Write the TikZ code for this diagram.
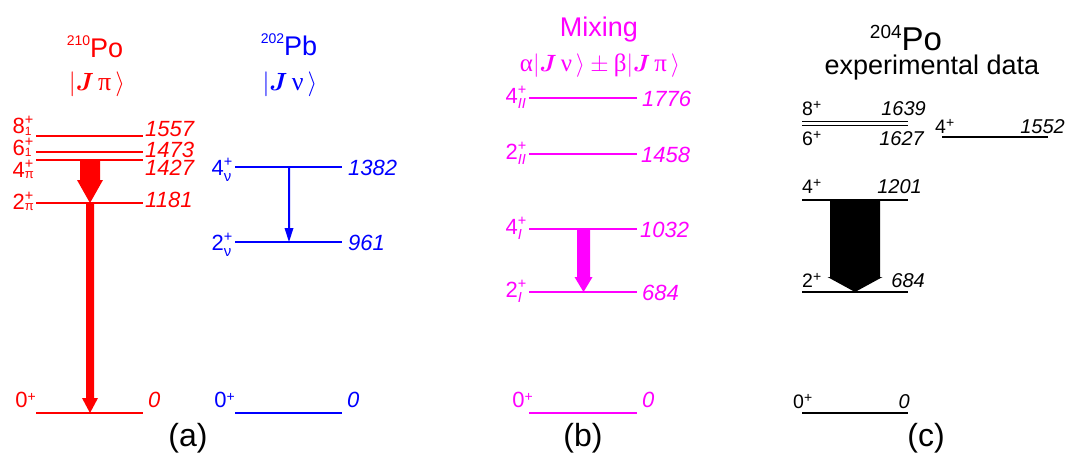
\documentclass[tikz,border=0pt]{standalone}
\usepackage{amsmath}
\usepackage{graphicx}
\usepackage{fontspec}
\setmainfont{Liberation Sans}
\newfontfamily\serif{Liberation Serif}
\usetikzlibrary{calc}
\definecolor{cred}{RGB}{255,0,0}
\definecolor{cblue}{RGB}{0,0,255}
\definecolor{cmag}{RGB}{255,0,255}
% level label: digit, subscript, lowering of subscript, subscript size
\newcommand{\lvs}[4]{#1\rlap{\raisebox{9pt}{\fontsize{14.5}{14.5}\selectfont +}}%
  \rlap{\raisebox{-#3}{\fontsize{#4}{#4}\selectfont #2}}\kern10pt\relax}
\newcommand{\lvp}[1]{#1\raisebox{6pt}{\fontsize{14}{14}\selectfont +}}
\newcommand{\myket}[1]{|\boldsymbol{J}\,\text{\serif #1}\,\rangle}
\newcommand{\levelline}[6]{%
  \coordinate (#1-l) at (#2,#4);
  \coordinate (#1-r) at (#3,#4);
  \draw[#5,line width=#6] (#1-l) -- (#1-r);}
\newcommand{\bigarrow}[6]{%
  \fill[#1] ($(#2)+(-#4,0)$) -- ($(#3)+(-#4,-#6)$) -- ($(#3)+(-#5,-#6)$) -- (#3)
    -- ($(#3)+(#5,-#6)$) -- ($(#3)+(#4,-#6)$) -- ($(#2)+(#4,0)$) -- cycle;}
\tikzset{
  lab/.style={inner sep=0pt, font=\fontsize{22}{22}\selectfont},
  num/.style={inner sep=0pt, font=\fontsize{22}{22}\selectfont\itshape},
  labc/.style={inner sep=0pt, font=\fontsize{19.5}{20}\selectfont},
  numc/.style={inner sep=0pt, font=\fontsize{20}{20}\selectfont\itshape},
  ttl/.style={inner sep=0pt, anchor=base, font=\fontsize{27}{27}\selectfont},
  ketst/.style={inner sep=0pt, anchor=base, font=\fontsize{26}{26}\selectfont},
  panel/.style={inner sep=0pt, anchor=base, font=\fontsize{32}{32}\selectfont},
}
\begin{document}
\begin{tikzpicture}[x=1pt,y=-1pt]
\useasboundingbox (0,0) rectangle (1069,455);
% ---------------- panel (a), 210Po -----------------
\node[ttl,text=cred] (tPo) at (95,57) {\raisebox{12pt}{\fontsize{14}{14}\selectfont 210}Po};
\node[ketst,text=cred] (kPo) at (97,90) {$\myket{π}$};
\levelline{r8}{36}{143}{136}{cred}{2pt}
\levelline{r6}{36}{143}{152}{cred}{2pt}
\levelline{r4}{36}{143}{160}{cred}{2pt}
\levelline{r2}{36}{143}{203}{cred}{2pt}
\levelline{r0}{36}{143}{413}{cred}{2pt}
\node[lab,text=cred,anchor=base east] (lr8) at (35,133) {\lvs{8}{1}{2.5pt}{12}};
\node[lab,text=cred,anchor=base east] (lr6) at (35,155) {\lvs{6}{1}{1pt}{12}};
\node[lab,text=cred,anchor=base east] (lr4) at (35,177) {\lvs{4}{π}{1pt}{13}};
\node[lab,text=cred,anchor=base east] (lr2) at (35,209) {\lvs{2}{π}{1pt}{13}};
\node[lab,text=cred,anchor=base east] (lr0) at (36,407) {\lvp{0}};
\node[num,text=cred,anchor=base west] (nr8) at (145,136) {1557};
\node[num,text=cred,anchor=base west] (nr6) at (145,157) {1473};
\node[num,text=cred,anchor=base west] (nr4) at (145,175) {1427};
\node[num,text=cred,anchor=base west] (nr2) at (145,207) {1181};
\node[num,text=cred,anchor=base west] (nr0) at (148,407) {0};
\coordinate (ra1t) at (90,160);
\coordinate (ra1b) at (90,203);
\coordinate (ra2t) at (90,203);
\coordinate (ra2b) at (90,413);
\bigarrow{cred}{ra1t}{ra1b}{10}{13}{23}
\bigarrow{cred}{ra2t}{ra2b}{4}{8}{15}
% ---------------- panel (a), 202Pb -----------------
\node[ttl,text=cblue] (tPb) at (289,55) {\raisebox{12pt}{\fontsize{14}{14}\selectfont 202}Pb};
\node[ketst,text=cblue] (kPb) at (290,90) {$\myket{ν}$};
\levelline{b4}{235}{342}{167}{cblue}{2pt}
\levelline{b2}{235}{342}{242}{cblue}{2pt}
\levelline{b0}{235}{342}{413}{cblue}{2pt}
\node[lab,text=cblue,anchor=base east] (lb4) at (234,175) {\lvs{4}{ν}{6pt}{15}};
\node[lab,text=cblue,anchor=base east] (lb2) at (234,250) {\lvs{2}{ν}{6pt}{15}};
\node[lab,text=cblue,anchor=base east] (lb0) at (235,407) {\lvp{0}};
\node[num,text=cblue,anchor=base west] (nb4) at (348,175) {1382};
\node[num,text=cblue,anchor=base west] (nb2) at (348,250) {961};
\node[num,text=cblue,anchor=base west] (nb0) at (347,407) {0};
\coordinate (bat) at (289,167);
\coordinate (bab) at (289,242);
\bigarrow{cblue}{bat}{bab}{1}{4.5}{14}
% ---------------- panel (b), mixing -----------------
\node[ttl,text=cmag] (tMix) at (599,36) {Mixing};
\node[ketst,text=cmag,font=\fontsize{22}{22}\selectfont] (kMix) at (600,71)
  {\resizebox{160pt}{!}{$\text{\serif α}\myket{ν}\mkern4mu\mathord{\pm}\mkern4mu\text{\serif β}\myket{π}$}};
\levelline{m4b}{529}{637}{98}{cmag}{2pt}
\levelline{m2b}{529}{637}{154}{cmag}{2pt}
\levelline{m4a}{529}{637}{229}{cmag}{2pt}
\levelline{m2a}{529}{637}{292}{cmag}{2pt}
\levelline{m0}{529}{637}{413}{cmag}{2pt}
\node[lab,text=cmag,anchor=base east] (lm4b) at (528,103) {\lvs{4}{\itshape II}{5pt}{14.5}};
\node[lab,text=cmag,anchor=base east] (lm2b) at (528,159) {\lvs{2}{\itshape II}{5pt}{14.5}};
\node[lab,text=cmag,anchor=base east] (lm4a) at (528,234) {\lvs{4}{\itshape I}{5pt}{14.5}};
\node[lab,text=cmag,anchor=base east] (lm2a) at (528,297) {\lvs{2}{\itshape I}{5pt}{14.5}};
\node[lab,text=cmag,anchor=base east] (lm0) at (533,407) {\lvp{0}};
\node[num,text=cmag,anchor=base west] (nm4b) at (642,106) {1776};
\node[num,text=cmag,anchor=base west] (nm2b) at (641,162) {1458};
\node[num,text=cmag,anchor=base west] (nm4a) at (640,237) {1032};
\node[num,text=cmag,anchor=base west] (nm2a) at (642,300) {684};
\node[num,text=cmag,anchor=base west] (nm0) at (642,407) {0};
\coordinate (mat) at (583.5,229);
\coordinate (mab) at (583.5,292);
\bigarrow{cmag}{mat}{mab}{6.5}{9}{15}
% ---------------- panel (c), 204Po -----------------
\node[ttl,font=\fontsize{33}{33}\selectfont] (tPoc) at (906,50) {\raisebox{11.5pt}{\fontsize{19}{19}\selectfont 204}Po};
\node[ttl,font=\fontsize{27}{27}\selectfont] (tExp) at (932,74) {experimental data};
\levelline{k8}{802}{908}{121.5}{black}{1.8pt}
\levelline{k6}{802}{908}{125.5}{black}{1.8pt}
\levelline{k4}{802}{908}{200}{black}{2pt}
\levelline{k2}{802}{908}{292}{black}{2pt}
\levelline{k0}{802}{908}{413}{black}{2pt}
\levelline{k4b}{942}{1048}{137}{black}{2pt}
\node[labc,anchor=base west] (lk8) at (802,115) {\lvp{8}};
\node[numc,anchor=base east] (nk8) at (926,115) {1639};
\node[labc,anchor=base west] (lk6) at (802,145) {\lvp{6}};
\node[numc,anchor=base east] (nk6) at (924,145) {1627};
\node[labc,anchor=base west] (lk4) at (802,193) {\lvp{4}};
\node[numc,anchor=base east] (nk4) at (922,193) {1201};
\node[labc,anchor=base west] (lk2) at (802,287) {\lvp{2}};
\node[numc,anchor=base east] (nk2) at (925,287) {684};
\node[labc,anchor=base west] (lk0) at (793,408) {\lvp{0}};
\node[numc,anchor=base east] (nk0) at (910,408) {0};
\node[labc,anchor=base west] (lk4b) at (935,133) {\lvp{4}};
\node[numc,anchor=base east] (nk4b) at (1065,133) {1552};
\coordinate (kat) at (855,200);
\coordinate (kab) at (855,292);
\bigarrow{black}{kat}{kab}{25}{27.5}{15}
% ---------------- panel letters -----------------
\node[panel] (pa) at (188,446) {(a)};
\node[panel] (pb) at (583,446) {(b)};
\node[panel] (pc) at (926,446) {(c)};
\end{tikzpicture}
\end{document}
